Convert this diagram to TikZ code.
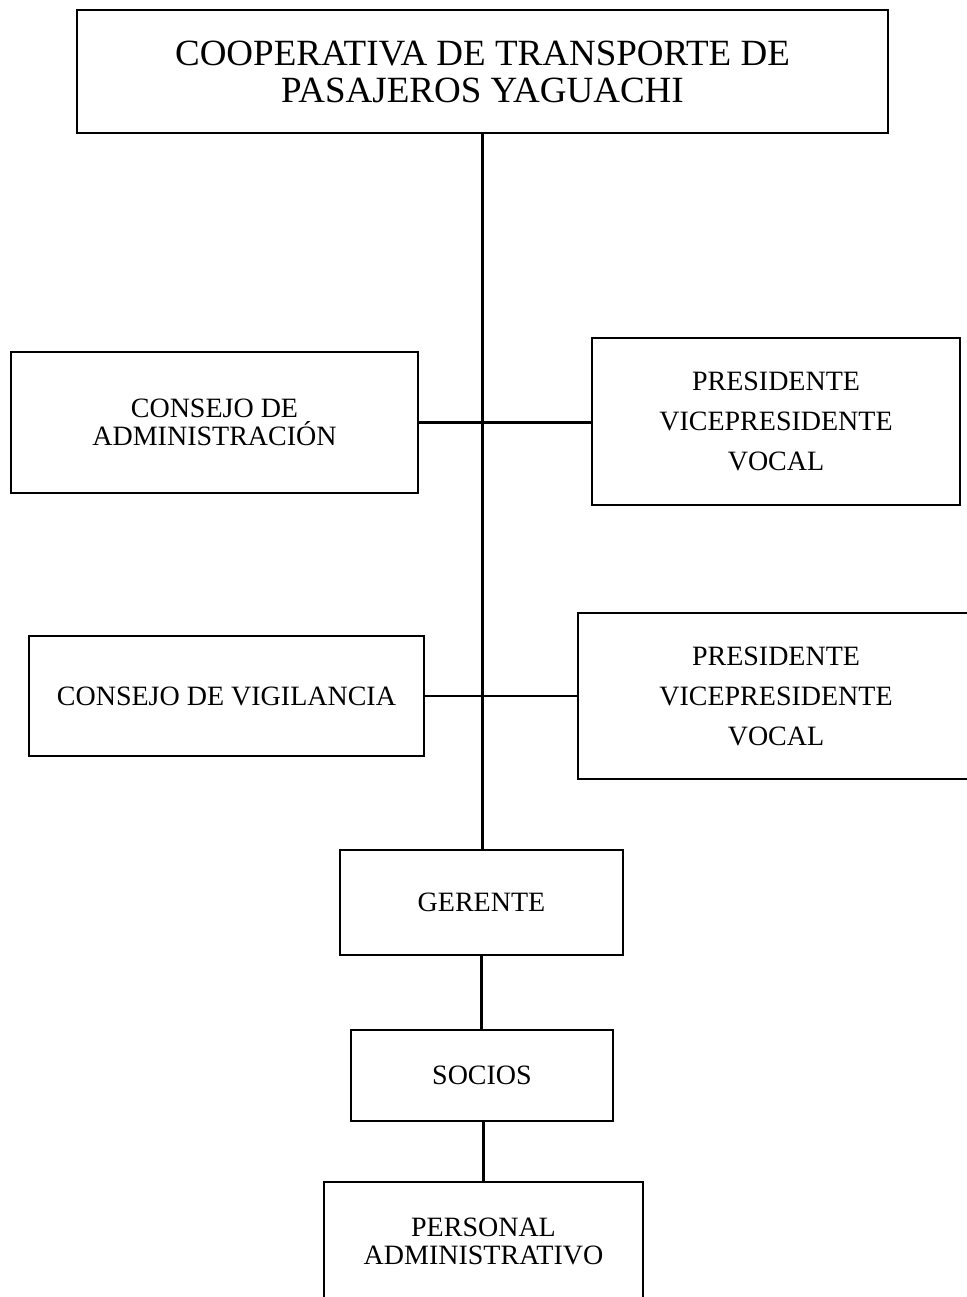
\documentclass[tikz,border=0pt]{standalone}
\usepackage{fontspec}
\setmainfont{Liberation Serif}
\begin{document}
\begin{tikzpicture}[x=1pt,y=-1pt,
  box/.style={draw=black, line width=2.5pt, rectangle, inner sep=0pt, align=center, text=black},
  txt/.style={font=\fontsize{28}{28}\selectfont},
  txtwide/.style={font=\fontsize{28}{40}\selectfont},
  conn/.style={draw=black, line width=2.5pt}]
\useasboundingbox (0,0) rectangle (966,1297);
\fill[white] (0,0) rectangle (966,1297);
\node[box, minimum width=811pt, minimum height=123pt, font=\fontsize{37}{37}\selectfont] (title) at (482.5,71.5) {COOPERATIVA DE TRANSPORTE DE\\PASAJEROS YAGUACHI};
\node[box, txt, minimum width=407pt, minimum height=141pt] (adm) at (214.5,422.5) {CONSEJO DE\\ADMINISTRACIÓN};
\node[box, txtwide, minimum width=368pt, minimum height=167pt] (pres1) at (776,421.5) {PRESIDENTE\\VICEPRESIDENTE\\VOCAL};
\node[box, txt, minimum width=395pt, minimum height=120pt] (vig) at (226.5,696) {CONSEJO DE VIGILANCIA};
\node[box, txtwide, minimum width=396pt, minimum height=166pt] (pres2) at (776,696) {PRESIDENTE\\VICEPRESIDENTE\\VOCAL};
\node[box, txt, minimum width=283pt, minimum height=105pt] (ger) at (481.5,902.5) {GERENTE};
\node[box, txt, minimum width=262pt, minimum height=91pt] (soc) at (482,1075.5) {SOCIOS};
\node[box, txt, minimum width=319pt, minimum height=118pt] (per) at (483.5,1241) {PERSONAL\\ADMINISTRATIVO};
\draw[conn] (title.south) -- (title.south |- ger.north);
\draw[conn] (adm.east) -- (adm.east -| pres1.west);
\draw[conn] (vig.east) -- (vig.east -| pres2.west);
\draw[conn] (ger.south) -- (ger.south |- soc.north);
\draw[conn] (soc.south -| per.north) -- (per.north);
\end{tikzpicture}
\end{document}
